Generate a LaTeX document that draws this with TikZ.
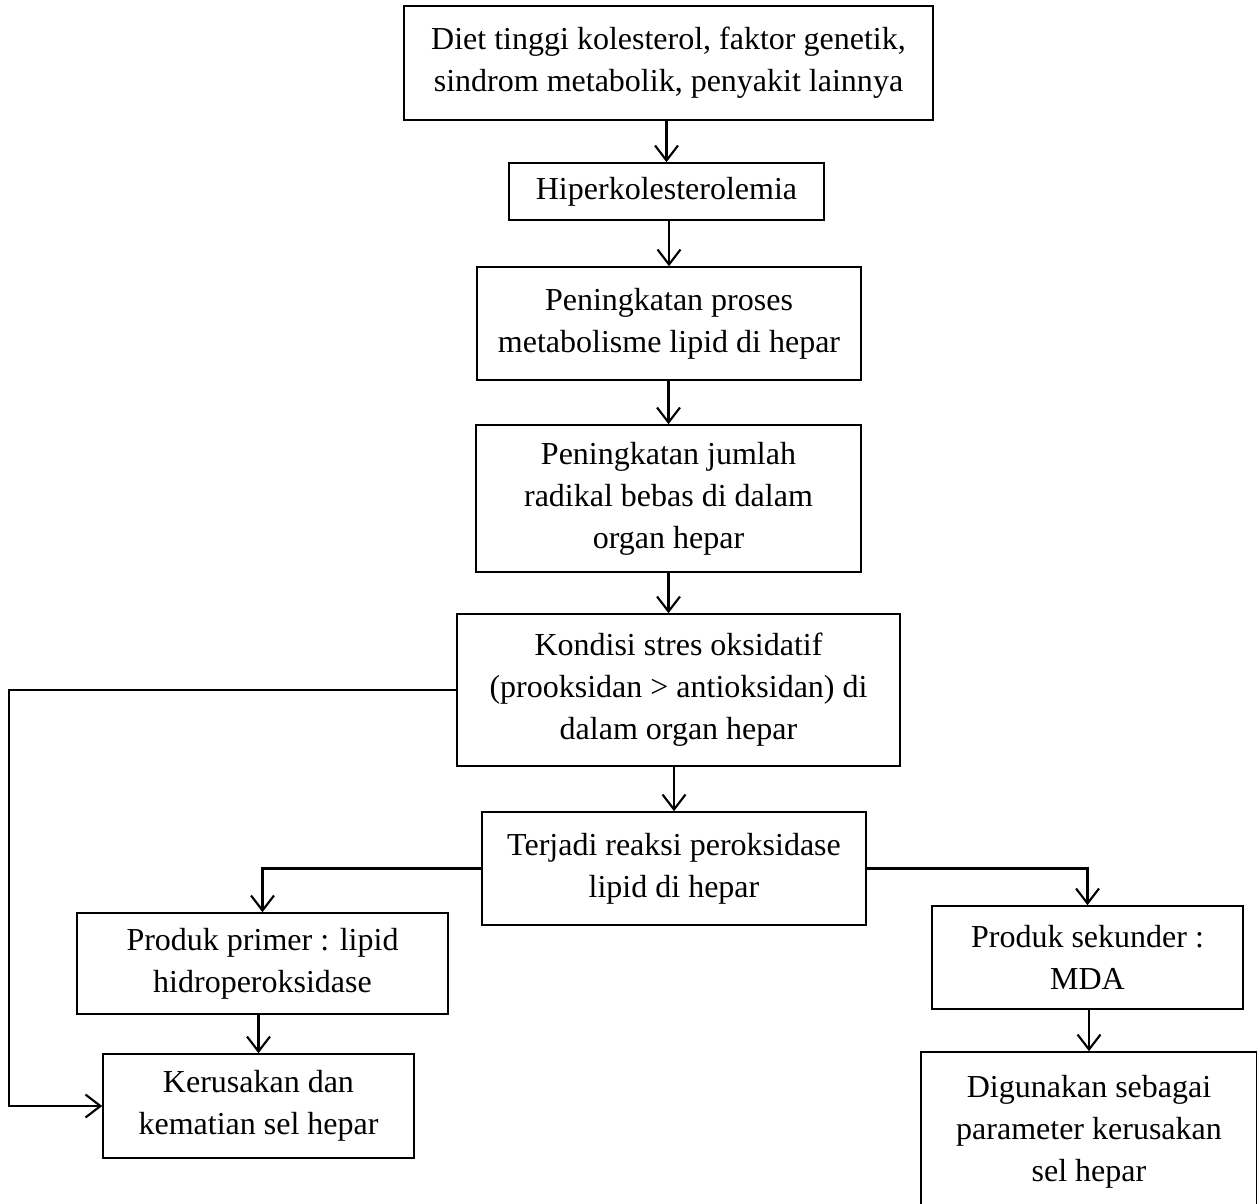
\documentclass[tikz,border=0pt]{standalone}
\usepackage{fontspec}
\setmainfont{Liberation Serif}
\usepackage{tikz}
\usetikzlibrary{arrows.meta}
\tikzset{
  box/.style={draw=black, line width=0.6pt, rectangle, align=center, inner sep=0pt,
    font=\fontsize{12}{15.75}\selectfont},
  sz/.style 2 args={minimum width=#1*0.375pt, minimum height=#2*0.375pt},
  arr/.style={draw=black, line width=0.8pt, line cap=round,
    -{Straight Barb[length=5.6pt, width=8.6pt]}}
}
\begin{document}
\begin{tikzpicture}[x=0.375pt, y=-0.375pt]
  \useasboundingbox (0,0) rectangle (1257,1203);
  \clip (0,0) rectangle (1257,1203);
  \coordinate (lft) at (9,0);

  \node[box, sz={529}{114}] (diet) at (668.5,63) {Diet tinggi kolesterol, faktor genetik,\\sindrom metabolik, penyakit lainnya};
  \node[box, sz={315}{57}] (hiper) at (666.5,191.5) {Hiperkolesterolemia};
  \node[box, sz={384}{113}] (metab) at (669,323.5) {Peningkatan proses\\metabolisme lipid di hepar};
  \node[box, sz={385}{147}] (radikal) at (668.5,498.5) {Peningkatan jumlah\\radikal bebas di dalam\\organ hepar};
  \node[box, sz={443}{152}] (stres) at (678.5,690) {Kondisi stres oksidatif\\(prooksidan > antioksidan) di\\dalam organ hepar};
  \node[box, sz={384}{113}] (reaksi) at (674,868.5) {Terjadi reaksi peroksidase\\lipid di hepar};
  \node[box, sz={371}{101}] (primer) at (262.5,963.5) {Produk primer : lipid\\hidroperoksidase};
  \node[box, sz={311}{104}] (rusak) at (258.5,1106) {Kerusakan dan\\kematian sel hepar};
  \node[box, sz={311}{103}] (mda) at (1087.5,957.5) {Produk sekunder :\\MDA};
  \node[box, sz={336}{160}] (param) at (1089,1132) {Digunakan sebagai\\parameter kerusakan\\sel hepar};

  \draw[arr] (hiper.north |- diet.south) -- (hiper.north);
  \draw[arr] (metab.north |- hiper.south) -- (metab.north);
  \draw[arr] (radikal.north |- metab.south) -- (radikal.north);
  \draw[arr] (radikal.south) -- (radikal.south |- stres.north);
  \draw[arr] (reaksi.north |- stres.south) -- (reaksi.north);
  \draw[arr] (reaksi.west) -| (primer.north);
  \draw[arr] (reaksi.east) -| (mda.north);
  \draw[arr] (rusak.north |- primer.south) -- (rusak.north);
  \draw[arr] (param.north |- mda.south) -- (param.north);
  \draw[arr] (stres.west) -- (stres.west -| lft) |- (rusak.west);
\end{tikzpicture}
\end{document}
